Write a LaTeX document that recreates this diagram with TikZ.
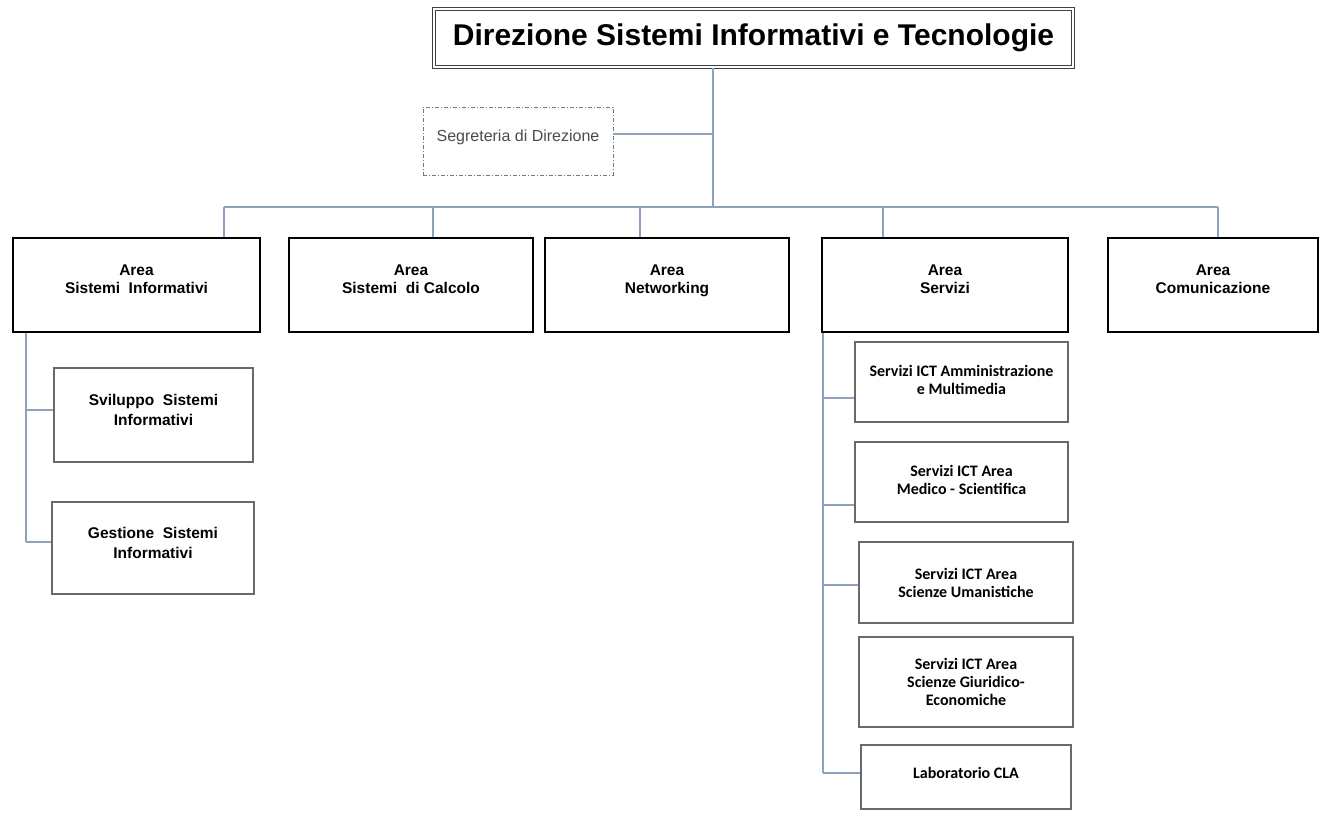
\documentclass[tikz,border=0pt]{standalone}
\usepackage{fontspec}
\setmainfont{Liberation Sans}
\newfontfamily\calfont{Carlito}
\definecolor{linkc}{RGB}{142,162,192}
\definecolor{subc}{RGB}{105,105,105}
\definecolor{segc}{RGB}{120,120,120}
\newcommand\mydeep[1]{\rule[-#1]{0pt}{1pt}}
\begin{document}
\begin{tikzpicture}[x=1pt,y=-1pt,
  conn/.style={draw=linkc, line width=1.2pt},
  titlebox/.style={draw=black!75, double=white, double distance=1.6pt, line width=1.4pt,
    font=\fontsize{30}{34}\selectfont\bfseries, inner sep=0pt},
  segbox/.style={draw=segc, line width=0.8pt, dash pattern=on 4pt off 2pt on 1pt off 2pt,
    font=\fontsize{16}{18}\selectfont, text=black!70, inner sep=0pt},
  areabox/.style={draw=black, line width=2.4pt, align=center, inner sep=0pt,
    font=\fontsize{15.5}{18}\selectfont\bfseries, minimum height=94pt},
  subbox/.style={draw=subc, line width=1.3pt, align=center, inner sep=0pt,
    font=\calfont\fontsize{16}{18}\selectfont\bfseries},
]
\useasboundingbox[fill=white] (0,0) rectangle (1320,812);

% title and secretariat
\node[titlebox, minimum width=639pt, minimum height=58pt] (title) at (753.5,38) {Direzione Sistemi Informativi e Tecnologie};
\node[segbox, minimum width=190pt, minimum height=68pt] (seg) at (518,141) {Segreteria di Direzione\mydeep{11pt}};

% areas
\node[areabox, minimum width=247pt] (asi) at (136.5,285) {Area\\Sistemi\ \ Informativi\mydeep{12pt}};
\node[areabox, minimum width=244pt] (acal) at (411,285) {Area\\Sistemi\ \ di Calcolo\mydeep{12pt}};
\node[areabox, minimum width=244pt] (anet) at (667,285) {Area\\Networking\mydeep{12pt}};
\node[areabox, minimum width=246pt] (aser) at (945,285) {Area\\Servizi\mydeep{12pt}};
\node[areabox, minimum width=210pt] (acom) at (1213,285) {Area\\Comunicazione\mydeep{12pt}};

% sub units of Sistemi Informativi
\node[subbox, font=\fontsize{15.5}{20}\selectfont\bfseries, minimum width=199pt, minimum height=94pt] (ssv) at (153.5,415) {Sviluppo\ \ Sistemi\\Informativi\mydeep{10pt}};
\node[subbox, font=\fontsize{15.5}{20}\selectfont\bfseries, minimum width=202pt, minimum height=92pt] (sge) at (153,548) {Gestione\ \ Sistemi\\Informativi\mydeep{10pt}};

% sub units of Servizi
\node[subbox, minimum width=213pt, minimum height=80pt] (s1) at (961.5,382) {Servizi ICT Amministrazione\\e Multimedia\mydeep{4pt}};
\node[subbox, minimum width=213pt, minimum height=80pt] (s2) at (961.5,482) {Servizi ICT Area\\Medico - Scientifica\mydeep{4pt}};
\node[subbox, minimum width=214pt, minimum height=81pt] (s3) at (966,582.5) {Servizi ICT Area\\Scienze Umanistiche};
\node[subbox, minimum width=214pt, minimum height=90pt] (s4) at (966,682) {Servizi ICT Area\\Scienze Giuridico-\\Economiche};
\node[subbox, minimum width=210pt, minimum height=64pt] (s5) at (966,777) {Laboratorio CLA\mydeep{9pt}};

% connector coordinates
\coordinate (hub) at (713,207);
\coordinate (sj) at (713,134);
\coordinate (d1) at (224,207);
\coordinate (d2) at (433,207);
\coordinate (d3) at (640,207);
\coordinate (d4) at (883,207);
\coordinate (d5) at (1218,207);
\coordinate (k1) at (26,410);
\coordinate (k2) at (26,542);
\coordinate (m1) at (823,398);
\coordinate (m2) at (823,505);
\coordinate (m3) at (823,585);
\coordinate (m5) at (823,773);

% connectors
\draw[conn] (title.south -| hub) -- (hub);
\draw[conn] (sj -| seg.east) -- (sj);
\draw[conn] (d1) -- (d5);
\draw[conn] (d1) -- (d1 |- asi.north);
\draw[conn] (d2) -- (d2 |- acal.north);
\draw[conn] (d3) -- (d3 |- anet.north);
\draw[conn] (d4) -- (d4 |- aser.north);
\draw[conn] (d5) -- (d5 |- acom.north);

\draw[conn] (k2 |- asi.south) -- (k2);
\draw[conn] (k1) -- (k1 -| ssv.west);
\draw[conn] (k2) -- (k2 -| sge.west);

\draw[conn] (m5 |- aser.south) -- (m5);
\draw[conn] (m1) -- (m1 -| s1.west);
\draw[conn] (m2) -- (m2 -| s2.west);
\draw[conn] (m3) -- (m3 -| s3.west);
\draw[conn] (m5) -- (m5 -| s5.west);
\end{tikzpicture}
\end{document}
